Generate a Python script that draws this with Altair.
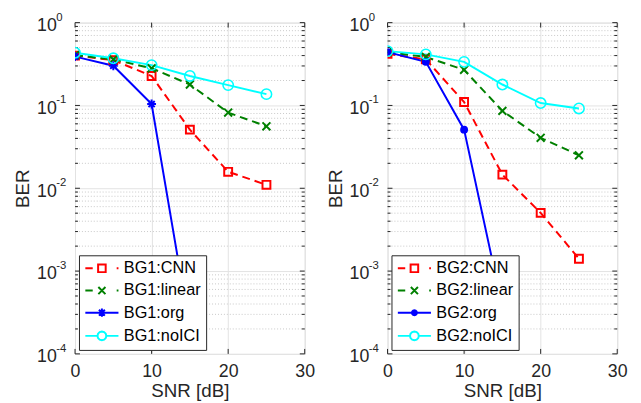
import math
import altair as alt
import pandas as pd

# ---------------- data ----------------
snr = [0, 5, 10, 15, 20, 25]
snr_org = [0, 5, 10, 15]

bg1_labels = ["BG1:CNN", "BG1:linear", "BG1:org", "BG1:noICI"]
bg1_cnn = [0.40, 0.352, 0.227, 0.051, 0.0158, 0.011]
bg1_linear = [0.405, 0.36, 0.281, 0.179, 0.082, 0.056]
bg1_org = [0.389, 0.302, 0.104, 0.0002]
bg1_noici = [0.433, 0.371, 0.307, 0.227, 0.176, 0.137]

bg2_labels = ["BG2:CNN", "BG2:linear", "BG2:org", "BG2:noICI"]
bg2_cnn = [0.42, 0.36, 0.110, 0.0146, 0.00504, 0.00141]
bg2_linear = [0.44, 0.385, 0.269, 0.086, 0.0407, 0.025]
bg2_org = [0.44, 0.336, 0.051, 0.00037]
bg2_noici = [0.453, 0.414, 0.336, 0.179, 0.107, 0.092]

x_ticks = [0, 10, 20, 30]
decades = [1e-4, 1e-3, 1e-2, 1e-1, 1e0]
exponents = ["-4", "-3", "-2", "-1", "0"]
minor_vals = [k * d for d in [1e-4, 1e-3, 1e-2, 1e-1] for k in range(2, 10)]

colors = ["#ff0000", "#008000", "#0000ff", "#00ffff"]
dashes = [[8, 5], [8, 5], None, None]

W, H = 233, 336
FONT = "Liberation Sans"
FRAME = "#262626"

SQ = "M-1,-1L1,-1L1,1L-1,1Z"
XX = "M-1,-1L1,1M-1,1L1,-1"
AST = "M-1,0L1,0M0,-1L0,1M-0.7,-0.7L0.7,0.7M-0.7,0.7L0.7,-0.7"
CIR = "circle"


def ring(r):
    pts = [(r * math.cos(math.radians(a)), r * math.sin(math.radians(a))) for a in range(0, 360, 30)]
    return "M" + "L".join(f"{x:.3f},{y:.3f}" for x, y in pts) + "Z"


LEG_CNN = "M-2.8,0L-1.55,0M-0.64,-0.64L0.64,-0.64L0.64,0.64L-0.64,0.64ZM2.5,0L2.8,0"
LEG_LIN = "M-2.8,0L-1.55,0M-0.6,-0.6L0.6,0.6M-0.6,0.6L0.6,-0.6M2.5,0L2.8,0"
LEG_AST = "M-2.8,0L2.8,0M0,-0.7L0,0.7M-0.5,-0.5L0.5,0.5M-0.5,0.5L0.5,-0.5"
LEG_DOT = "M-2.8,0L2.8,0" + ring(0.42)
LEG_CIR = "M-2.8,0L-0.75,0M0.75,0L2.8,0" + ring(0.75)


def panel(labels, series, org_marker, org_leg, org_filled):
    rows = []
    for lab, vals in zip(labels, series):
        xs = snr_org if len(vals) == len(snr_org) else snr
        for x, v in zip(xs, vals):
            rows.append({"snr": x, "ber": v, "series": lab})
    df = pd.DataFrame(rows)

    xscale = alt.Scale(domain=[0, 30], nice=False, zero=False)
    yscale = alt.Scale(type="log", domain=[1e-4, 1], nice=False)

    leg_shapes = [LEG_CNN, LEG_LIN, org_leg, LEG_CIR]
    leg_fills = ["transparent", "transparent", colors[2] if org_filled else "transparent", "transparent"]

    legend = alt.Legend(
        title=None, orient="bottom-left", offset=4,
        fillColor="white", strokeColor=FRAME, padding=5,
        labelFont=FONT, labelFontSize=16.5, labelColor="#000000",
        symbolSize=144, symbolStrokeWidth=2, symbolOffset=10, labelOffset=14,
        rowPadding=5.5,
    )

    xaxis = alt.Axis(values=x_ticks, title="SNR [dB]", tickSize=0, domain=False,
                     labelFont=FONT, labelFontSize=18, labelColor=FRAME, labelPadding=9,
                     labelFlush=False, titleFont=FONT, titleFontSize=19,
                     titleFontWeight="normal", titleColor=FRAME, titlePadding=1,
                     grid=True, gridColor="#e3e3e3", gridWidth=1)
    yaxis = alt.Axis(values=decades, title="BER", tickSize=0, domain=False,
                     labelExpr="'10'",
                     labelFont=FONT, labelFontSize=18, labelColor=FRAME, labelPadding=19,
                     labelOffset=3,
                     titleFont=FONT, titleFontSize=19, titleFontWeight="normal",
                     titleColor=FRAME, titlePadding=4,
                     grid=True, gridColor="#e3e3e3", gridWidth=1)

    minor_df = pd.DataFrame({"v": minor_vals})
    dec_df = pd.DataFrame({"v": decades, "e": exponents})
    xt_df = pd.DataFrame({"v": x_ticks})

    minor_grid = alt.Chart(minor_df).mark_rule(
        color="#c8c8c8", strokeDash=[1, 2], strokeWidth=1
    ).encode(y=alt.Y("v:Q", scale=yscale, axis=yaxis))

    expo = alt.Chart(dec_df).mark_text(
        align="left", baseline="middle", dy=-5, fontSize=11.5, font=FONT, color=FRAME
    ).encode(y=alt.Y("v:Q", scale=yscale), x=alt.value(-19), text="e:N")

    tick_layers = []
    for data, ln in [(minor_df, 3), (dec_df, 5)]:
        tick_layers.append(alt.Chart(data).mark_rule(color=FRAME, strokeWidth=1).encode(
            y=alt.Y("v:Q", scale=yscale), x=alt.value(0), x2=alt.value(ln)))
        tick_layers.append(alt.Chart(data).mark_rule(color=FRAME, strokeWidth=1).encode(
            y=alt.Y("v:Q", scale=yscale), x=alt.value(W - ln), x2=alt.value(W)))
    tick_layers.append(alt.Chart(xt_df).mark_rule(color=FRAME, strokeWidth=1).encode(
        x=alt.X("v:Q", scale=xscale, axis=xaxis), y=alt.value(H), y2=alt.value(H - 5)))
    tick_layers.append(alt.Chart(xt_df).mark_rule(color=FRAME, strokeWidth=1).encode(
        x=alt.X("v:Q", scale=xscale), y=alt.value(0), y2=alt.value(5)))

    lines = []
    for lab, c, d in zip(labels, colors, dashes):
        kw = dict(strokeWidth=2, clip=True, color=c)
        if d:
            kw["strokeDash"] = d
        lines.append(alt.Chart(df).transform_filter(alt.datum.series == lab).mark_line(**kw).encode(
            x=alt.X("snr:Q", scale=xscale), y=alt.Y("ber:Q", scale=yscale), order="snr:Q"))

    markers = [SQ, XX, org_marker, CIR]
    msizes = [64, 64, 81 if not org_filled else 36, 110]
    pts = []
    for lab, shp, c, sz in zip(labels, markers, colors, msizes):
        filled = org_filled and lab == labels[2]
        pts.append(alt.Chart(df).transform_filter(alt.datum.series == lab).mark_point(
            shape=shp, size=sz, stroke=c, fill=c if filled else "transparent",
            filled=filled, strokeWidth=2 if lab != labels[3] else 1.6, opacity=1, clip=True
        ).encode(x=alt.X("snr:Q", scale=xscale), y=alt.Y("ber:Q", scale=yscale)))

    # legend layer: its glyphs are pushed out of the clipped plot, only the legend shows
    legend_layer = alt.Chart(df).transform_calculate(hide="datum.ber * 1e-12").mark_point(
        opacity=1, strokeWidth=2, clip=True
    ).encode(
        x=alt.X("snr:Q", scale=xscale),
        y=alt.Y("hide:Q", scale=yscale),
        color=alt.Color("series:N", scale=alt.Scale(domain=labels, range=colors), legend=legend),
        shape=alt.Shape("series:N", scale=alt.Scale(domain=labels, range=leg_shapes), legend=legend),
        fill=alt.Fill("series:N", scale=alt.Scale(domain=labels, range=leg_fills), legend=legend),
    )

    return alt.layer(minor_grid, *tick_layers, *lines, *pts, legend_layer, expo).properties(width=W, height=H)


left = panel(bg1_labels, [bg1_cnn, bg1_linear, bg1_org, bg1_noici], AST, LEG_AST, False)
right = panel(bg2_labels, [bg2_cnn, bg2_linear, bg2_org, bg2_noici], CIR, LEG_DOT, True)

chart = alt.hconcat(left, right, spacing=10).resolve_scale(
    color="independent", shape="independent", fill="independent"
).resolve_legend(color="independent", shape="independent", fill="independent").properties(
    padding={"left": 5, "top": 0, "right": 5, "bottom": 0}
).configure_view(stroke=FRAME, strokeWidth=1).configure(background="white")

chart.save("out.html", embed_options={"renderer": "svg", "actions": False})
